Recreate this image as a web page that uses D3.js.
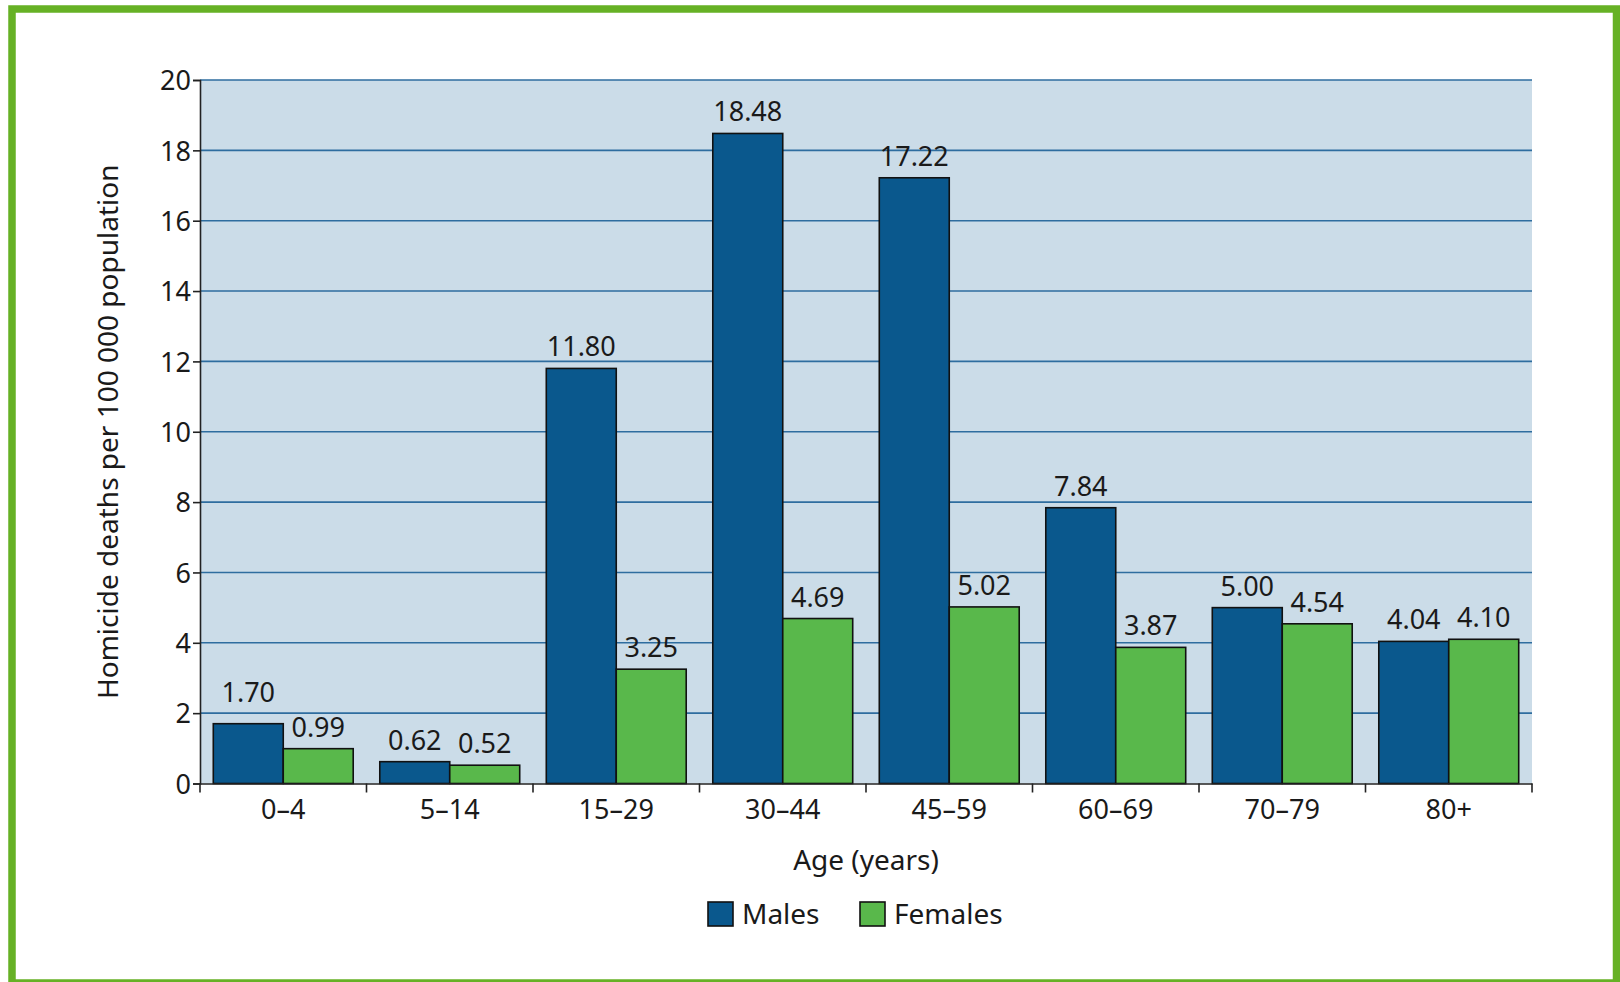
<!DOCTYPE html>
<html>
<head>
<meta charset="utf-8">
<script src="https://cdn.jsdelivr.net/npm/d3@7"></script>
<style>
  body { margin: 0; background: #fff; }
  text { font-family: "Noto Sans", sans-serif; fill: #1a1a1a; }
</style>
</head>
<body>
<div id="chart"></div>
<script>
var categories = ["0\u20134", "5\u201314", "15\u201329", "30\u201344", "45\u201359", "60\u201369", "70\u201379", "80+"]
var series = ["Males", "Females"]
var males = [1.70, 0.62, 11.80, 18.48, 17.22, 7.84, 5.00, 4.04]
var females = [0.99, 0.52, 3.25, 4.69, 5.02, 3.87, 4.54, 4.10]
var yTicks = [0, 2, 4, 6, 8, 10, 12, 14, 16, 18, 20]

var colors = { Males: "#0a588d", Females: "#59b84b" }

var W = 1620, H = 982,
    plotLeft = 200, plotRight = 1532,
    plotTop = 80, plotBottom = 783.5

var svg = d3.select("#chart")
    .append("svg")
    .attr("width", W)
    .attr("height", H)

// green frame
svg.append("rect")
    .attr("x", 12)
    .attr("y", 9)
    .attr("width", 1604.5)
    .attr("height", 974)
    .attr("fill", "none")
    .attr("stroke", "#66b125")
    .attr("stroke-width", 7.5)

var x0 = d3.scaleBand()
    .domain(categories)
    .range([plotLeft, plotRight])
    .padding(0)

var x1 = d3.scaleBand()
    .domain(series)
    .range([0, x0.bandwidth()])
    .paddingInner(0)
    .paddingOuter(0.19)

var y = d3.scaleLinear()
    .domain([0, 20])
    .range([plotBottom, plotTop])

// plot background
svg.append("rect")
    .attr("x", plotLeft)
    .attr("y", plotTop)
    .attr("width", plotRight - plotLeft)
    .attr("height", plotBottom - plotTop)
    .attr("fill", "#cbdce8")

// gridlines
var gridVals = yTicks.filter(function (d) { return d > 0 })
svg.append("g")
    .selectAll("line")
    .data(gridVals)
    .join("line")
    .attr("x1", plotLeft)
    .attr("x2", plotRight)
    .attr("y1", function (d) { return y(d) })
    .attr("y2", function (d) { return y(d) })
    .attr("stroke", "#2e6d9f")
    .attr("stroke-width", 1.6)

// bars
var rows = categories.map(function (c, i) {
    return { cat: c, values: [{ key: "Males", v: males[i] }, { key: "Females", v: females[i] }] }
})

var groups = svg.append("g")
    .selectAll("g")
    .data(rows)
    .join("g")
    .attr("transform", function (d) { return "translate(" + x0(d.cat) + ",0)" })

groups.selectAll("rect")
    .data(function (d) { return d.values })
    .join("rect")
    .attr("x", function (d) { return x1(d.key) })
    .attr("y", function (d) { return y(d.v) })
    .attr("width", x1.bandwidth())
    .attr("height", function (d) { return y(0) - y(d.v) })
    .attr("fill", function (d) { return colors[d.key] })
    .attr("stroke", "#111")
    .attr("stroke-width", 1.6)

// value label sits 12px above the bar, lifted over a gridline it would sit on
function labelY(v) {
    var base = y(v) - 12
    gridVals.forEach(function (g) {
        if (Math.abs(y(g) - base) < 2.5) base = y(g) - 11
    })
    return base
}

groups.selectAll("text")
    .data(function (d) { return d.values })
    .join("text")
    .attr("x", function (d) { return x1(d.key) + x1.bandwidth() / 2 })
    .attr("y", function (d) { return labelY(d.v) })
    .attr("text-anchor", "middle")
    .style("font-size", "27px")
    .text(function (d) { return d.v.toFixed(2) })

// y axis
var yAxis = svg.append("g")
    .attr("transform", "translate(" + plotLeft + ",0)")
    .call(d3.axisLeft(y).tickValues(yTicks).tickSize(7).tickPadding(2))
yAxis.select(".domain").attr("stroke", "#222").attr("stroke-width", 1.6)
yAxis.selectAll(".tick line").attr("stroke", "#222").attr("stroke-width", 1.6)
yAxis.selectAll("text").style("font-size", "27px").attr("fill", "#1a1a1a").attr("dy", "0.36em")

// x axis
var xAxis = svg.append("g")
    .attr("transform", "translate(0," + plotBottom + ")")
    .call(d3.axisBottom(x0).tickSize(0).tickPadding(16).tickSizeOuter(0))
xAxis.select(".domain").attr("stroke", "#222").attr("stroke-width", 1.6)
xAxis.selectAll("text").style("font-size", "27px").attr("fill", "#1a1a1a")

// boundary ticks between age groups
svg.append("g")
    .selectAll("line")
    .data(categories.map(function (c) { return x0(c) }).concat([x0.range()[1]]))
    .join("line")
    .attr("x1", function (d) { return d })
    .attr("x2", function (d) { return d })
    .attr("y1", plotBottom)
    .attr("y2", plotBottom + 9)
    .attr("stroke", "#222")
    .attr("stroke-width", 1.6)

// axis titles
svg.append("text")
    .text("Age (years)")
    .attr("x", (plotLeft + plotRight) / 2)
    .attr("y", 870)
    .attr("text-anchor", "middle")
    .style("font-size", "28px")

svg.append("text")
    .text("Homicide deaths per 100 000 population")
    .attr("transform", "translate(118," + (plotTop + plotBottom) / 2 + ") rotate(-90)")
    .attr("text-anchor", "middle")
    .style("font-size", "28px")

// legend
var legend = svg.append("g")
    .selectAll("g")
    .data(series)
    .join("g")
    .attr("transform", function (d, i) { return "translate(" + (708 + i * 152) + ",902)" })

legend.append("rect")
    .attr("width", 25)
    .attr("height", 24)
    .attr("fill", function (d) { return colors[d] })
    .attr("stroke", "#111")
    .attr("stroke-width", 1.6)

legend.append("text")
    .attr("x", 34)
    .attr("y", 22)
    .style("font-size", "28px")
    .text(function (d) { return d })
</script>
</body>
</html>
